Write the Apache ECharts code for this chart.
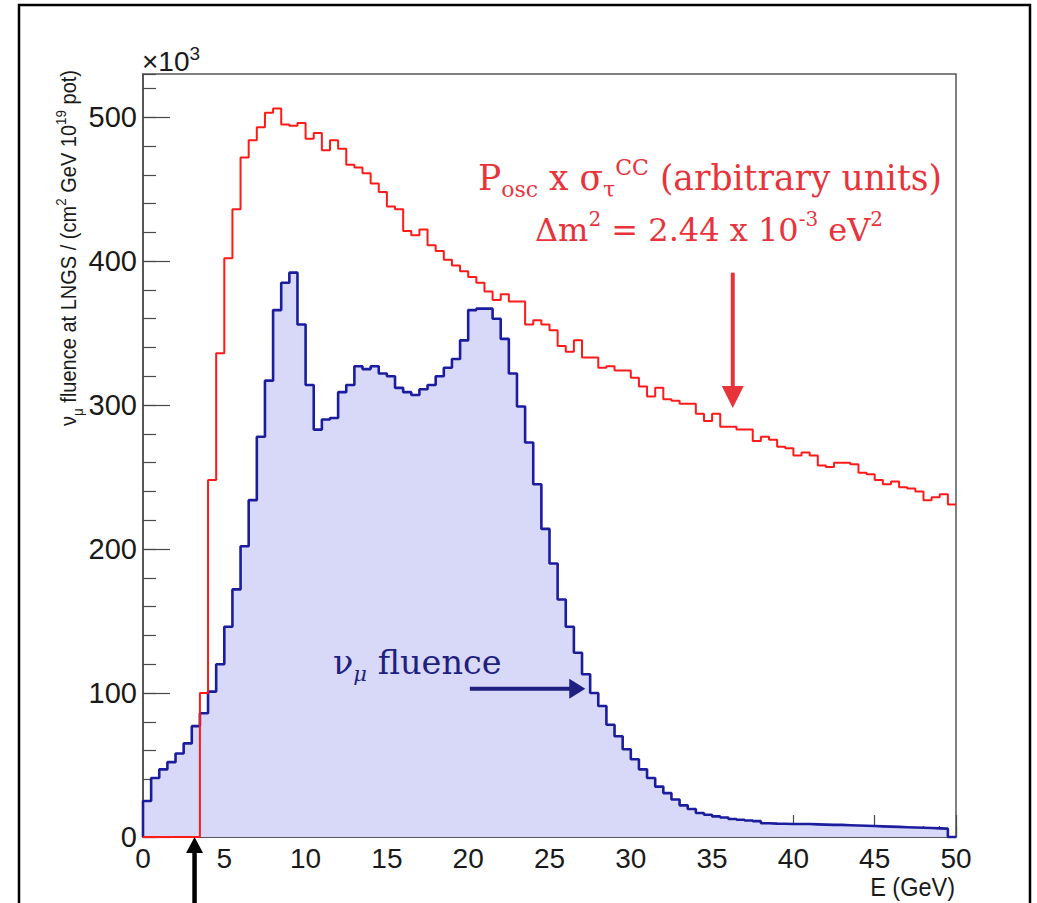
<!DOCTYPE html>
<html>
<head>
<meta charset="utf-8">
<script src="https://cdn.jsdelivr.net/npm/echarts@6/dist/echarts.min.js"></script>
<style>
html,body{margin:0;padding:0;background:#ffffff;}
#c{width:1037px;height:903px;}
</style>
</head>
<body>
<div id="c"></div>
<script>
// ---- data ----
const binWidth = 0.5;          // GeV, 100 bins from 0 to 50
const energyMin = 0;
const energyMax = 50;
const xTickStep = 5;
const yMax = 530;              // x10^3
const yTickStep = 100;

// nu_mu fluence at LNGS (x10^3), one value per 0.5 GeV bin
const fluenceNuMu = [
  25,41,47,52,58,65,77,86,101,120,
  146,172,202,234,278,317,366,385,392,356,
  314,283,290,291,309,314,327,325,327,322,
  320,312,309,307,311,314,320,326,332,345,
  366,367,367,360,346,322,299,274,245,214,
  190,165,146,128,113,100,91,78,70,61,
  54,47,41,35,30.5,26,22,19.4,16.7,15.5,
  14.3,13.5,12.5,12,11.5,11,9.5,9.3,9.2,9,
  9,9,8.8,8.6,8.4,8.4,8.2,8.0,7.8,7.6,
  7.4,7.2,7.0,6.8,6.6,6.4,6.2,6.0,5.8,0
];

// P_osc x sigma_tau^CC (arbitrary units), one value per 0.5 GeV bin
const oscTimesXsec = [
  0,0,0,0,0,0,0,100,248,336,
  402,436,472,484,493,503,506,495,494,496,
  485,489,477,484,478,467,465,461,454,448,
  438,436,421,418,422,411,407,401,397,393,
  389,385,379,373,377,372,372,356,359,356,
  352,341,337,345,333,333,326,327,324,324,
  319,313,306,312,304,303,301,301,294,289,
  294,285,285,283,283,275,278,276,271,270,
  265,267,265,258,257,260,260,259,253,252,
  248,245,247,243,242,240,234,236,238,231
];

// annotation anchors in data units [E, value]
const redArrowFrom = [36.27, 392];
const redArrowTo = [36.27, 298];
const blueArrowFrom = [20.1, 103];
const blueArrowTo = [27.2, 103];
const blackArrowFrom = [3.17, -48];
const blackArrowTo = [3.17, 0];

// ---- build step data (bin left edges) ----
function histPoints(values, startAtZero) {
  const pts = [];
  if (startAtZero) pts.push([energyMin, 0]);
  values.forEach((v, i) => pts.push([energyMin + i * binWidth, v]));
  pts.push([energyMin + values.length * binWidth, values[values.length - 1]]);
  return pts;
}

const FS = 'Liberation Sans, Arial, Helvetica, sans-serif';
const SERIF = 'DejaVu Serif, serif';
const axisGray = '#4a4a4a';

const chart = echarts.init(document.getElementById('c'), null, {renderer: 'svg'});

const option = {
  backgroundColor: '#ffffff',
  animation: false,
  grid: {left: 143, right: 81, top: 74, bottom: 66, show: true,
         borderColor: '#555555', borderWidth: 1.5, backgroundColor: 'transparent'},
  xAxis: [
    {type: 'value', min: energyMin, max: energyMax, interval: xTickStep,
     axisLine: {lineStyle: {color: axisGray, width: 1.5}},
     axisTick: {inside: true, length: 22, lineStyle: {color: axisGray, width: 1.2}},
     axisLabel: {fontFamily: FS, fontSize: 28, color: '#1a1a1a', margin: 7},
     splitLine: {show: false}},
    {type: 'value', min: energyMin, max: energyMax, interval: 1, position: 'bottom',
     axisLine: {show: false},
     axisTick: {inside: true, length: 11, lineStyle: {color: axisGray, width: 1.2}},
     axisLabel: {show: false}, splitLine: {show: false}}
  ],
  yAxis: [
    {type: 'value', min: 0, max: yMax, interval: yTickStep,
     axisLine: {show: true, lineStyle: {color: axisGray, width: 1.5}},
     axisTick: {show: true, inside: true, length: 27, lineStyle: {color: axisGray, width: 1.2}},
     axisLabel: {fontFamily: FS, fontSize: 29, color: '#1a1a1a', margin: 6, showMaxLabel: false},
     splitLine: {show: false}},
    {type: 'value', min: 0, max: yMax, interval: 20, position: 'left',
     axisLine: {show: false},
     axisTick: {show: true, inside: true, length: 13, lineStyle: {color: axisGray, width: 1.2}},
     axisLabel: {show: false}, splitLine: {show: false}}
  ],
  series: [
    {name: 'nu_mu fluence', type: 'line', step: 'end', xAxisIndex: 0, yAxisIndex: 0,
     data: histPoints(fluenceNuMu, true), showSymbol: false, symbol: 'none', clip: false,
     lineStyle: {color: '#1c1c9e', width: 2.6},
     areaStyle: {color: '#d8d8f9', opacity: 1, origin: 'start'}, z: 2},
    {name: 'Posc x sigma', type: 'line', step: 'end', xAxisIndex: 0, yAxisIndex: 0,
     data: histPoints(oscTimesXsec, false), showSymbol: false, symbol: 'none', clip: false,
     lineStyle: {color: '#ff1a1a', width: 2}, z: 3}
  ]
};
chart.setOption(option);

const P = (pt) => chart.convertToPixel({seriesIndex: 0}, pt);

function arrow(from, to, color, width, headLen, headW) {
  const [x1, y1] = P(from), [x2, y2] = P(to);
  const dx = x2 - x1, dy = y2 - y1, L = Math.hypot(dx, dy);
  const ux = dx / L, uy = dy / L;
  const bx = x2 - ux * headLen, by = y2 - uy * headLen;
  return [
    {type: 'line', shape: {x1: x1, y1: y1, x2: bx + ux * 2, y2: by + uy * 2},
     style: {stroke: color, lineWidth: width}, z: 20},
    {type: 'polygon', shape: {points: [[x2, y2],
      [bx - uy * headW / 2, by + ux * headW / 2],
      [bx + uy * headW / 2, by - ux * headW / 2]]},
     style: {fill: color}, z: 20}
  ];
}

const red = '#e8333b';
const navy = '#1f1f80';

const graphics = [
  {type: 'rect', shape: {x: 19, y: 5, width: 1011, height: 930},
   style: {fill: 'none', stroke: '#000000', lineWidth: 2.5}, z: 30, silent: true},
  {type: 'text', x: 142, y: 61, z: 20,
   style: {text: '{a|×10}{s|3}', verticalAlign: 'middle', align: 'left',
     rich: {a: {fontFamily: FS, fontSize: 28, fill: '#1a1a1a', lineHeight: 34, verticalAlign: 'middle'},
            s: {fontFamily: FS, fontSize: 19, fill: '#1a1a1a', lineHeight: 20, verticalAlign: 'top'}}}},
  {type: 'text', x: 69, y: 70, rotation: Math.PI / 2, scaleX: 0.89, z: 20,
   style: {text: '{n|ν}{b|μ}{n| fluence at LNGS / (cm}{t|2}{n| GeV 10}{t|19}{n| pot)}',
     align: 'right', verticalAlign: 'middle',
     rich: {n: {fontFamily: FS, fontSize: 22.5, fill: '#1a1a1a', lineHeight: 32, verticalAlign: 'middle'},
            b: {fontFamily: FS, fontSize: 15, fill: '#1a1a1a', lineHeight: 15, verticalAlign: 'bottom'},
            t: {fontFamily: FS, fontSize: 15, fill: '#1a1a1a', lineHeight: 15, verticalAlign: 'top'}}}},
  {type: 'text', x: 955, y: 887, scaleX: 0.94, z: 20,
   style: {text: 'E (GeV)', fontFamily: FS, fontSize: 25, fill: '#1a1a1a',
     align: 'right', verticalAlign: 'middle'}},
  {type: 'text', x: 710, y: 178, z: 20,
   style: {text: '{n|P}{b|osc}{n| x σ}{b|τ}{t|CC}{n| (arbitrary units)}',
     align: 'center', verticalAlign: 'middle',
     rich: {n: {fontFamily: SERIF, fontSize: 34.5, fill: red, lineHeight: 44, verticalAlign: 'middle'},
            b: {fontFamily: SERIF, fontSize: 22, fill: red, lineHeight: 22, verticalAlign: 'bottom'},
            t: {fontFamily: SERIF, fontSize: 22, fill: red, lineHeight: 22, verticalAlign: 'top'}}}},
  {type: 'text', x: 709, y: 230, z: 20,
   style: {text: '{n|Δm}{t|2}{n| = 2.44 x 10}{t|-3}{n| eV}{t|2}',
     align: 'center', verticalAlign: 'middle',
     rich: {n: {fontFamily: SERIF, fontSize: 32, fill: red, lineHeight: 42, verticalAlign: 'middle'},
            t: {fontFamily: SERIF, fontSize: 20, fill: red, lineHeight: 20, verticalAlign: 'top'}}}},
  {type: 'text', x: 333, y: 662, z: 20,
   style: {text: '{n|ν}{b|μ}{n| fluence}', align: 'left', verticalAlign: 'middle',
     rich: {n: {fontFamily: SERIF, fontSize: 33.5, fill: navy, lineHeight: 44, verticalAlign: 'middle'},
            b: {fontFamily: SERIF, fontSize: 21, fill: navy, fontStyle: 'italic', lineHeight: 21, verticalAlign: 'bottom'}}}}
];

arrow(redArrowFrom, redArrowTo, red, 4, 22, 22).forEach(g => graphics.push(g));
arrow(blueArrowFrom, blueArrowTo, navy, 4, 16, 20).forEach(g => graphics.push(g));
arrow(blackArrowFrom, blackArrowTo, '#000000', 4.5, 16, 17).forEach(g => graphics.push(g));

chart.setOption({graphic: graphics});
</script>
</body>
</html>
